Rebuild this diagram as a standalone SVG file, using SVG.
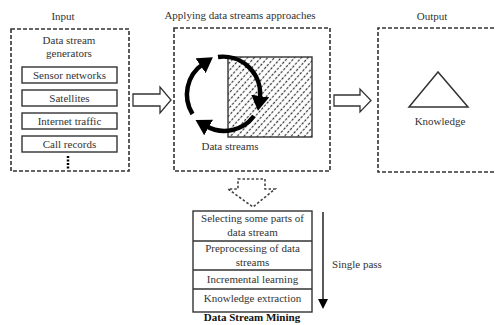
<svg xmlns="http://www.w3.org/2000/svg" width="495" height="325" viewBox="0 0 495 325">
<style>
text{font-family:"Liberation Serif","Times New Roman",serif;font-size:11px;fill:#333;text-anchor:middle}
.dash{fill:none;stroke:#333;stroke-width:1.6;stroke-dasharray:4 2}
.box{fill:#fff;stroke:#333;stroke-width:1.4}
.hollow{fill:#fff;stroke:#333;stroke-width:1.3}
.cyc{fill:none;stroke:#000;stroke-width:4.5}
.b{font-weight:bold;fill:#111}
</style>
<defs>
<marker id="cyh" markerUnits="userSpaceOnUse" markerWidth="18" markerHeight="18" refX="3" refY="9" orient="auto">
<path d="M0,0 L15,9 L0,18 z" fill="#000"/>
</marker>
<marker id="dh" markerUnits="userSpaceOnUse" markerWidth="10" markerHeight="10" refX="1" refY="5" orient="auto">
<path d="M0,0 L10,5 L0,10 z" fill="#000"/>
</marker>
<pattern id="hatch" patternUnits="userSpaceOnUse" width="5" height="8" patternTransform="rotate(42)">
<line x1="2.5" y1="0" x2="2.5" y2="8" stroke="#333" stroke-width="1.2" stroke-dasharray="2.5 1.5"/>
</pattern>
</defs>

<g id="input">
<text x="63" y="20">Input</text>
<rect class="dash" x="11" y="29" width="118" height="142"/>
<text x="69" y="44">Data stream</text>
<text x="69" y="57">generators</text>
</g>
<g id="sensor"><rect class="box" x="22" y="67" width="95" height="16"/><text x="69.5" y="79">Sensor networks</text></g>
<g id="satellites"><rect class="box" x="22" y="90" width="95" height="16"/><text x="69.5" y="102">Satellites</text></g>
<g id="internet"><rect class="box" x="22" y="113" width="95" height="16"/><text x="69.5" y="125">Internet traffic</text></g>
<g id="call"><rect class="box" x="22" y="136" width="95" height="16"/><text x="69.5" y="148">Call records</text></g>
<line x1="68" y1="156" x2="68" y2="169" stroke="#000" stroke-width="2.5" stroke-dasharray="2 1.5"/>

<g id="approaches">
<text x="240" y="19">Applying data streams approaches</text>
<rect class="dash" x="174" y="28" width="156" height="143"/>
<rect x="228" y="57" width="84" height="80" fill="url(#hatch)" stroke="#333" stroke-width="1.4"/>
<path class="cyc" d="M192.5,114 A37,37 0 0 1 203,64" marker-end="url(#cyh)"/>
<path class="cyc" d="M218,57 A37,37 0 0 1 259.7,99" marker-end="url(#cyh)"/>
<path class="cyc" d="M254,116 A37,37 0 0 1 206,126" marker-end="url(#cyh)"/>
<text x="230" y="150">Data streams</text>
</g>

<g id="output">
<text x="432" y="20">Output</text>
<path class="dash" d="M500,28 H378 V172 H500"/>
<path d="M438,72 L409,107 L468,107 Z" fill="none" stroke="#333" stroke-width="1.5"/>
<text x="440" y="125">Knowledge</text>
</g>

<g id="mining">
<rect class="box" x="193" y="211" width="119" height="101" stroke-width="1.6"/>
<line x1="193" y1="241" x2="312" y2="241" stroke="#333" stroke-width="1.4"/>
<line x1="193" y1="270" x2="312" y2="270" stroke="#333" stroke-width="1.4"/>
<line x1="193" y1="289" x2="312" y2="289" stroke="#333" stroke-width="1.4"/>
<text x="252.5" y="222">Selecting some parts of</text>
<text x="252.5" y="236">data stream</text>
<text x="252.5" y="252">Preprocessing of data</text>
<text x="252.5" y="266">streams</text>
<text x="252.5" y="283">Incremental learning</text>
<text x="252.5" y="302">Knowledge extraction</text>
<text class="b" x="252" y="321">Data Stream Mining</text>
<text x="357" y="268">Single pass</text>
</g>

<g id="connectors">
<path class="hollow" d="M133,94 H160 V87 L171,100 L160,113 V106 H133 Z"/>
<path class="hollow" d="M334,95 H360 V89 L371,100.5 L360,112 V106 H334 Z"/>
<path d="M238,179 H265 V189 H275 L253,207 L228,189 H238 Z" fill="none" stroke="#444" stroke-width="1.6" stroke-dasharray="2.5 2"/>
<line x1="323" y1="212" x2="323" y2="300" stroke="#000" stroke-width="1.3" marker-end="url(#dh)"/>
</g>
</svg>
